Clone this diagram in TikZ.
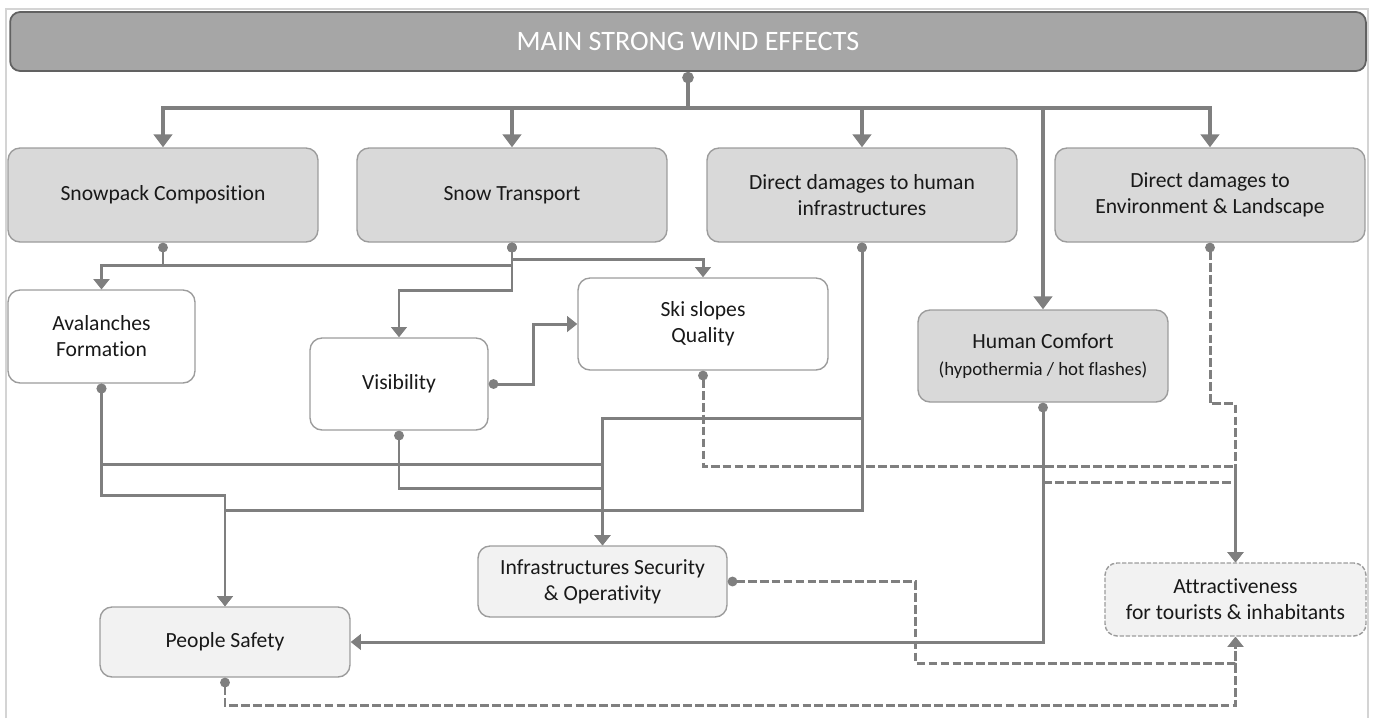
\documentclass[tikz,border=0pt]{standalone}
\usepackage{fontspec}
\setmainfont{Carlito}[Ligatures={NoCommon,NoContextual,NoRare},Contextuals=NoAlternate]
\usetikzlibrary{arrows.meta}
\definecolor{titlefill}{HTML}{A6A6A6}
\definecolor{titleline}{HTML}{616161}
\definecolor{boxgrey}{HTML}{D9D9D9}
\definecolor{boxlight}{HTML}{F2F2F2}
\definecolor{boxline}{HTML}{9C9C9C}
\definecolor{linkgrey}{HTML}{7F7F7F}
\definecolor{framegrey}{HTML}{D4D4D4}

\begin{document}
\begin{tikzpicture}[x=0.02cm,y=-0.02cm,
	>={Triangle[length=5.8pt,width=8.8pt]},
	box/.style={draw=boxline,
		line width=0.8pt,
		rounded corners=0.24cm,
		align=center,
		inner sep=0pt,
		text=black!90,
		font=\fontsize{12.3}{14.8}\selectfont},
	greybox/.style={box, fill=boxgrey},
	whitebox/.style={box, fill=white},
	lightbox/.style={box, fill=boxlight},
	trunk/.style={draw=linkgrey, line width=2pt, arrows={Circle[length=6.5pt]-}},
	mainlink/.style={draw=linkgrey, line width=2pt, -{Triangle[length=7.4pt,width=10.5pt]}},
	link/.style={draw=linkgrey, line width=1.7pt, arrows={Circle[length=5.5pt]->}},
	dashlink/.style={link, dash pattern=on 5pt off 1.8pt}
	]
		\useasboundingbox (0,0) rectangle (1376,718);
		% frame
		\draw[framegrey, line width=0.6pt] (6,718) -- (6,9) -- (1368,9) -- (1368,718);
		% title
		\node[draw=titleline,
		fill=titlefill,
		line width=1pt,
		rounded corners=0.2cm,
		minimum width=27.12cm,
		minimum height=1.18cm,
		inner sep=0pt,
		text=white,
		font=\fontsize{16}{19}\selectfont] (title) at (688,41.5) {MAIN STRONG WIND EFFECTS};

		% first row
		\node[greybox, minimum width=6.2cm, minimum height=1.88cm] (snowpack) at (163,195) {Snowpack Composition};
		\node[greybox, minimum width=6.2cm, minimum height=1.88cm] (transport) at (512,195) {Snow Transport};
		\node[greybox, minimum width=6.2cm, minimum height=1.88cm] (dmghuman) at (862,195) {Direct damages to human\\infrastructures};
		\node[greybox, minimum width=6.2cm, minimum height=1.88cm] (dmgenv) at (1210,195) {Direct damages to\\Environment \& Landscape};

		% second row
		\node[whitebox, minimum width=3.74cm, minimum height=1.86cm] (avalanche) at (101.5,336.5) {Avalanches\\Formation};
		\node[whitebox, minimum width=3.56cm, minimum height=1.84cm] (visibility) at (399,384) {Visibility};
		\node[whitebox, minimum width=5cm, minimum height=1.84cm] (skislopes) at (703,324) {Ski slopes\\Quality};
		\node[greybox, minimum width=5cm, minimum height=1.84cm] (comfort) at (1043,356) {Human Comfort\\[1pt]{\fontsize{10.7}{13}\selectfont (hypothermia / hot flashes)}};

		% third row
		\node[lightbox, minimum width=4.98cm, minimum height=1.42cm] (infra) at (602.5,581.5) {Infrastructures Security\\\& Operativity};
		\node[lightbox, minimum width=5cm, minimum height=1.4cm] (safety) at (225,642) {People Safety};
		\node[lightbox, dash pattern=on 2.5pt off 1pt, minimum width=5.22cm, minimum height=1.46cm] (attract) at (1235.5,599.5) {Attractiveness\\for tourists \& inhabitants};

		% main effects
		\draw[trunk] (title.south) -- ++(0,36) coordinate (bus);
		\draw[mainlink] (bus) -| (snowpack.north);
		\draw[mainlink] (bus) -| (transport.north);
		\draw[mainlink] (bus) -| (dmghuman.north);
		\draw[mainlink] (bus) -| (dmgenv.north);
		\draw[mainlink] (bus) -| (comfort.north);

		% snow
		\draw[link] (snowpack.south) -- ++(0,23) -| (avalanche.north);
		\draw[link] (transport.south) -- ++(0,23) -| (avalanche.north);
		\draw[link] (transport.south) -- ++(0,48) -| (visibility.north);
		\draw[link] (transport.south) -- ++(0,17) -| (skislopes.north);
		\draw[link] (visibility.east) -- ++(45,0) |- (skislopes.west);

		% infrastructures
		\draw[link] (avalanche.south) -- ++(0,81) -| (infra.north);
		\draw[link] (visibility.south) -- ++(0,58) -| (infra.north);
		\draw[link] (dmghuman.south) -- ++(0,176) -| (infra.north);

		% people
		\draw[link] (avalanche.south) -- ++(0,112) -| (safety.north);
		\draw[link] (dmghuman.south) -- ++(0,268) -| (safety.north);
		\draw[link] (comfort.south) -- ++(0,80) coordinate (warm) |- (safety.east);

		% attractiveness
		\draw[dashlink] (skislopes.south) -- ++(0,96) -| (attract.north);
		\draw[dashlink] (dmgenv.south) -- ++(0,161) -| (attract.north);
		\draw[dashlink, ->] (warm) -| (attract.north);
		\draw[dashlink] (infra.east) -- ++(188,0) -- ++(0,82) -| (attract.south);
		\draw[dashlink] (safety.south) -- ++(0,28) -| (attract.south);
\end{tikzpicture}
\end{document}
